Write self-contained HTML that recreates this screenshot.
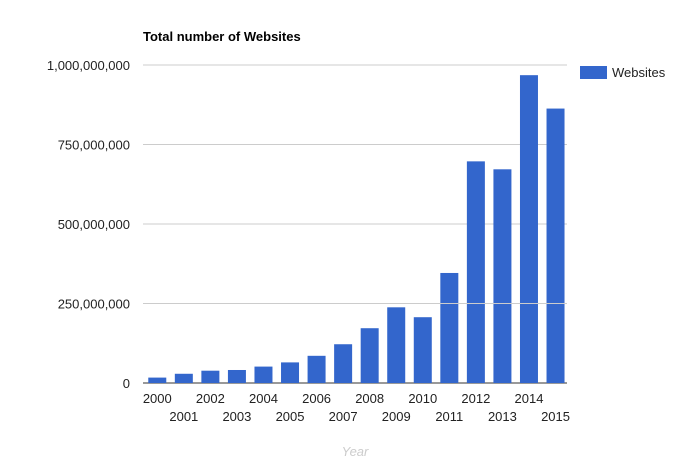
<!DOCTYPE html>
<html><head><meta charset="utf-8"><style>
body{margin:0;background:#fff;font-family:"Liberation Sans",Arial,sans-serif}
</style></head><body>
<svg width="685" height="465" xmlns="http://www.w3.org/2000/svg" id="svg">
<text x="143" y="41" font-size="13" font-weight="bold" fill="#000">Total number of Websites</text>
<g id="grid"></g><g id="bars"></g><g id="xlab"></g>
<text x="355" y="456" font-size="13" font-style="italic" fill="#ccc" text-anchor="middle">Year</text>
<rect x="580" y="66" width="27" height="13" fill="#3366cc"/>
<text x="612" y="77" font-size="13" fill="#222">Websites</text>
</svg>
<script>
const years=["2000","2001","2002","2003","2004","2005","2006","2007","2008","2009","2010","2011","2012","2013","2014","2015"];
const websites=[17000000,29000000,38700000,40900000,51600000,64800000,85500000,121900000,172300000,238000000,206900000,346000000,697000000,672000000,968000000,863000000];
const yTicks=[0,250000000,500000000,750000000,1000000000];
const yTickLabels=["0","250,000,000","500,000,000","750,000,000","1,000,000,000"];
const NS="http://www.w3.org/2000/svg";
const x0=143,step=26.55,y0=383,y1=65,bw=18;
const yS=v=>y0-(v/1e9)*(y0-y1);
const xS=i=>x0+step*i+(step-bw)/2+1;
function mk(t,a,p){const e=document.createElementNS(NS,t);for(const k in a)e.setAttribute(k,a[k]);p.appendChild(e);return e;}
const g=document.getElementById('grid');
yTicks.forEach((v,i)=>{
  const l=mk('line',{x1:x0,x2:567,y1:yS(v),y2:yS(v),stroke:i==0?'#333':'#ccc','stroke-width':1},g);
  
  
  const t=mk('text',{x:130,y:yS(v)+5,'font-size':13,fill:'#222','text-anchor':'end'},g);
  t.textContent=yTickLabels[i];
  
  
});
const b=document.getElementById('bars'),xl=document.getElementById('xlab');
websites.forEach((v,i)=>{
  const r=mk('rect',{x:xS(i),y:yS(v),width:bw,height:y0-yS(v),fill:'#3366cc'},b);
  
  
  const t=mk('text',{x:xS(i)+bw/2,y:i%2?421:403,'font-size':13,fill:'#222','text-anchor':'middle'},xl);
  t.textContent=years[i];
  
  
});
g.appendChild(g.firstChild);
document.getElementById('svg').appendChild(g.querySelector('line'));
</script>
</body></html>
